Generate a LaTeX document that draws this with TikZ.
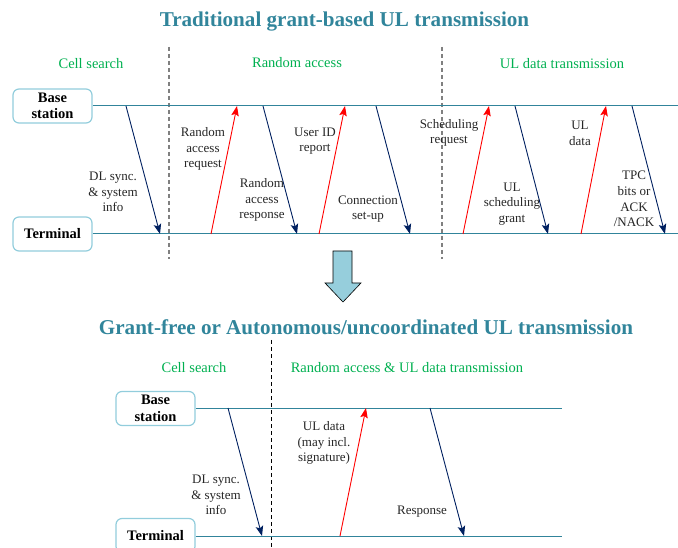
\documentclass[tikz,border=0pt]{standalone}
\usepackage{fontspec}
\setmainfont{Liberation Serif}
\usetikzlibrary{arrows.meta}
\definecolor{titlec}{RGB}{49,133,155}
\definecolor{greenc}{RGB}{0,176,80}
\definecolor{linec}{RGB}{49,132,155}
\definecolor{boxc}{RGB}{146,205,220}
\definecolor{navy}{RGB}{0,32,96}
\definecolor{fillc}{RGB}{150,206,220}
\tikzset{
  titlefont/.style={font=\fontsize{21.1}{24}\selectfont\bfseries, text=titlec},
  phase/.style={font=\fontsize{14.5}{17}\selectfont, text=greenc},
  entity/.style={draw=boxc, line width=1.2pt, rounded corners=6pt, minimum width=79pt, minimum height=34pt, align=center, inner sep=0pt, font=\fontsize{14.5}{16.5}\selectfont\bfseries, text=black},
  tline/.style={draw=linec, line width=1pt},
  dl/.style={draw=navy, line width=0.9pt, -{Stealth[length=10pt,width=7.5pt,inset=2pt]}},
  ul/.style={draw=red, line width=0.9pt, -{Stealth[length=10pt,width=7.5pt,inset=2pt]}},
  lab/.style={align=center, font=\fontsize{13}{15.7}\selectfont, text=black!85, inner sep=0pt},
  sep/.style={draw=black!50, line width=1.2pt, dash pattern=on 4pt off 3pt},
  sepb/.style={draw=black, line width=0.8pt, dash pattern=on 4pt off 3pt},
}
\begin{document}
\begin{tikzpicture}[x=1pt,y=-1pt]
\useasboundingbox (0,0) rectangle (678,548);
% ---------- top part ----------
\node[titlefont] (t1) at (344.5,22) {Traditional grant-based UL transmission};
\node[phase] (p1) at (91,64) {Cell search};
\node[phase] (p2) at (297,63) {Random access};
\node[phase] (p3) at (562,64) {UL data transmission};
\coordinate (d1a) at (169,47); \coordinate (d1b) at (169,259);
\coordinate (d2a) at (442,47); \coordinate (d2b) at (442,259);
\draw[sep] (d1a) -- (d1b);
\draw[sep] (d2a) -- (d2b);
\node[entity] (bs1) at (52.5,106) {Base\\station};
\node[entity] (te1) at (52.5,234) {Terminal};
\coordinate (bs1e) at (678,106);
\coordinate (te1e) at (678,234);
\draw[tline] (bs1.east) -- (bs1e);
\draw[tline] (te1.east) -- (te1e);
% arrows
\coordinate (a1s) at (126,106); \coordinate (a1e) at (160,234);
\coordinate (a2s) at (211,234); \coordinate (a2e) at (237,106);
\coordinate (a3s) at (263,106); \coordinate (a3e) at (297,234);
\coordinate (a4s) at (319,234); \coordinate (a4e) at (345,106);
\coordinate (a5s) at (376,106); \coordinate (a5e) at (410,234);
\coordinate (a6s) at (463,234); \coordinate (a6e) at (489,106);
\coordinate (a7s) at (515,106); \coordinate (a7e) at (548,234);
\coordinate (a8s) at (581,234); \coordinate (a8e) at (606,106);
\coordinate (a9s) at (632,106); \coordinate (a9e) at (665,234);
\draw[dl] (a1s) -- (a1e);
\draw[ul] (a2s) -- (a2e);
\draw[dl] (a3s) -- (a3e);
\draw[ul] (a4s) -- (a4e);
\draw[dl] (a5s) -- (a5e);
\draw[ul] (a6s) -- (a6e);
\draw[dl] (a7s) -- (a7e);
\draw[ul] (a8s) -- (a8e);
\draw[dl] (a9s) -- (a9e);
\node[lab] (l1) at (113,192) {DL sync.\\\& system\\info};
\node[lab] (l2) at (203,149) {Random\\access\\request};
\node[lab] (l3) at (262,200) {Random\\access\\response};
\node[lab] (l4) at (315,141) {User ID\\report};
\node[lab] (l5) at (368,209) {Connection\\set-up};
\node[lab] (l6) at (449,133) {Scheduling\\request};
\node[lab] (l7) at (512,204) {UL\\scheduling\\grant};
\node[lab] (l8) at (580,133) {UL\\data};
\node[lab] (l9) at (634,199) {TPC\\bits or\\ACK\\/NACK};
% ---------- block arrow ----------
\draw[fill=fillc, draw=black, line width=0.6pt]
  (333,251) -- (352,251) -- (352,283) -- (361,283) -- (343,302) -- (325,283) -- (333,283) -- cycle;
% ---------- bottom part ----------
\node[titlefont] (t2) at (366,327) {Grant-free or Autonomous/uncoordinated UL transmission};
\node[phase] (p4) at (194,368) {Cell search};
\node[phase] (p5) at (407,368) {Random access \& UL data transmission};
\coordinate (d3a) at (271.5,340); \coordinate (d3b) at (271.5,548);
\draw[sepb] (d3a) -- (d3b);
\node[entity] (bs2) at (155.5,408.5) {Base\\station};
\node[entity] (te2) at (155.5,535.5) {Terminal};
\coordinate (bs2e) at (562,408);
\coordinate (te2e) at (562,536);
\draw[tline] (bs2.east |- bs2e) -- (bs2e);
\draw[tline] (te2.east |- te2e) -- (te2e);
\coordinate (b1s) at (228,408); \coordinate (b1e) at (262,536);
\coordinate (b2s) at (340,536); \coordinate (b2e) at (366,408);
\coordinate (b3s) at (430,408); \coordinate (b3e) at (464,536);
\draw[dl] (b1s) -- (b1e);
\draw[ul] (b2s) -- (b2e);
\draw[dl] (b3s) -- (b3e);
\node[lab] (m1) at (216,495) {DL sync.\\\& system\\info};
\node[lab] (m2) at (324,443) {UL data\\(may incl.\\signature)};
\node[lab] (m3) at (422,512) {Response};
\end{tikzpicture}
\end{document}
